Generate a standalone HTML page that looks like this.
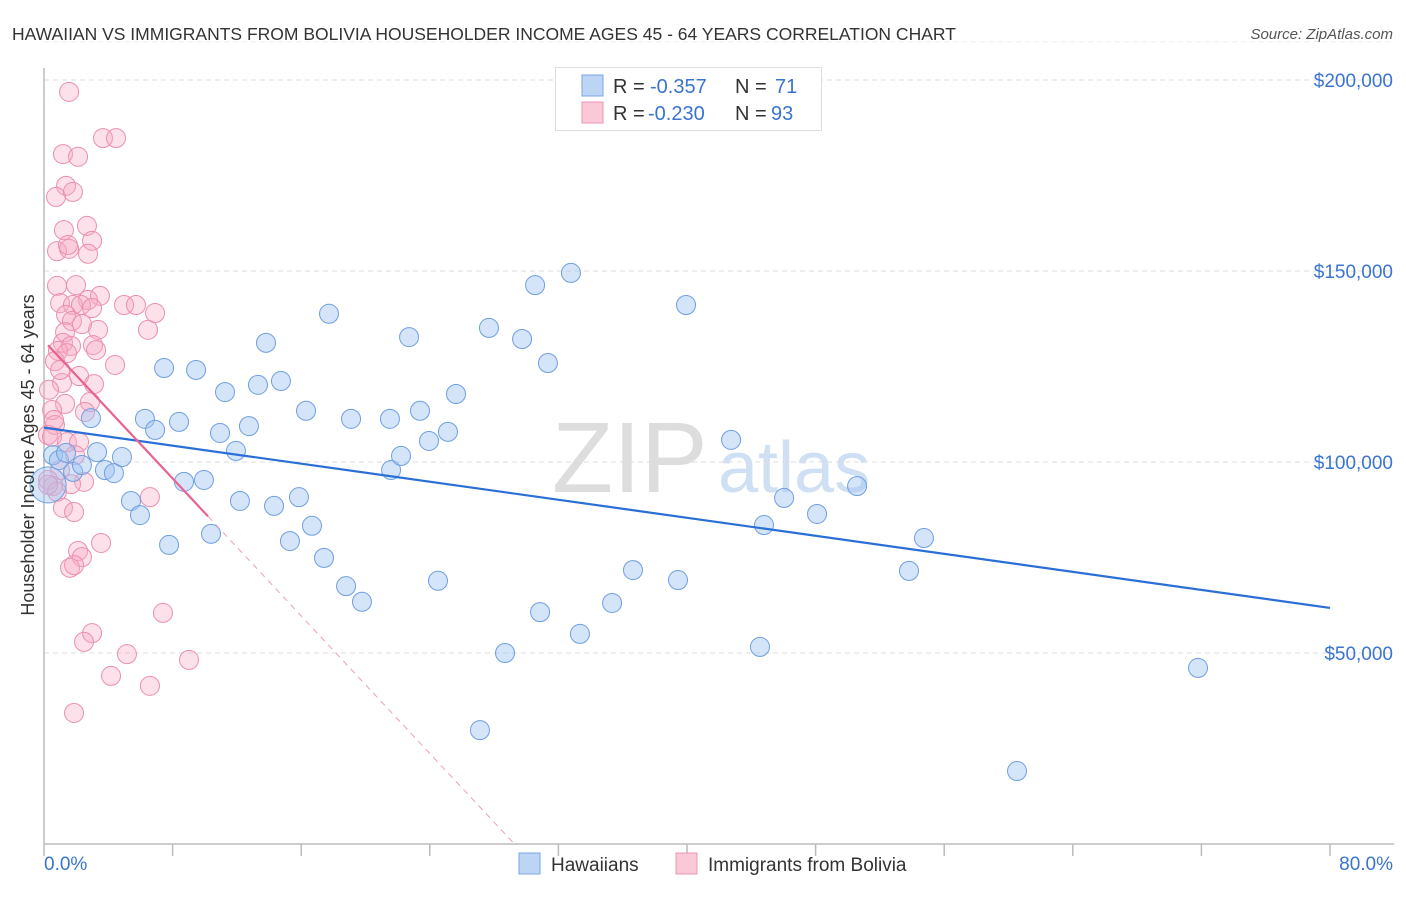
<!DOCTYPE html>
<html><head><meta charset="utf-8"><style>
body{margin:0;background:#fff;font-family:"Liberation Sans",sans-serif;}
svg text{font-family:"Liberation Sans",sans-serif;}
</style></head><body>
<svg id="c" width="1406" height="892" viewBox="0 0 1406 892">
<text x="12" y="40" font-size="17.5" fill="#333">HAWAIIAN VS IMMIGRANTS FROM BOLIVIA HOUSEHOLDER INCOME AGES 45 - 64 YEARS CORRELATION CHART</text>
<text x="1393" y="39" font-size="15" fill="#555" font-style="italic" text-anchor="end">Source: ZipAtlas.com</text>
<g>
<text x="552" y="492" font-size="100" fill="#ddd" font-family="Liberation Serif">ZIP</text>
<text x="718" y="492" font-size="72" fill="#cfe0f4">atlas</text>
</g>
<g id="grid"></g>
<g id="axes"></g>
<g id="marks"></g>
<text transform="translate(34,455) rotate(-90)" font-size="18" fill="#333" text-anchor="middle">Householder Income Ages 45 - 64 years</text>
<g>
<rect x="555.5" y="67.5" width="266" height="63" fill="#fff" stroke="#ddd"/>
<rect x="582" y="75" width="21" height="21" fill="#bcd5f5" stroke="#7aa6e4"/>
<rect x="582" y="102" width="21" height="21" fill="#fbc8d8" stroke="#ec94b2"/>
<g font-size="20">
<text x="613" y="93" fill="#333">R =</text><text x="650" y="93" fill="#3a74d0">-0.357</text>
<text x="735" y="93" fill="#333">N =</text><text x="775" y="93" fill="#3a74d0">71</text></g>
<g font-size="20">
<text x="613" y="120" fill="#333">R =</text><text x="648" y="120" fill="#3a74d0">-0.230</text>
<text x="735" y="120" fill="#333">N =</text><text x="771" y="120" fill="#3a74d0">93</text></g>
</g>
<g>
<rect x="519" y="853" width="21" height="21" fill="#bcd5f5" stroke="#7aa6e4"/>
<text x="551" y="871" font-size="19" fill="#333">Hawaiians</text>
<rect x="676" y="853" width="21" height="21" fill="#fbc8d8" stroke="#ec94b2"/>
<text x="708" y="871" font-size="19" fill="#333">Immigrants from Bolivia</text>
</g>
</svg>
<script>
const yTicks=[50000,100000,150000,200000];
const yTickLabels=["$50,000","$100,000","$150,000","$200,000"];
const xTickVals=[0,8,16,24,32,40,48,56,64,72,80];
const xEndLabels=["0.0%","80.0%"];
const blueX=[0.56,0.93,1.37,1.81,2.36,3.30,2.92,3.79,4.35,4.85,5.41,5.97,6.28,6.91,7.47,7.78,8.40,8.71,9.46,9.95,10.39,10.95,11.26,11.94,12.19,12.75,13.31,13.81,14.31,14.74,15.30,15.86,16.30,16.67,17.42,17.73,18.79,19.10,19.78,21.52,21.59,22.21,22.71,23.39,23.95,24.51,25.13,25.63,27.12,27.68,28.68,29.74,30.55,30.86,31.35,32.78,33.34,35.34,36.64,39.44,39.94,42.74,44.54,44.79,46.04,48.09,50.58,53.81,54.74,60.53,71.79,0.25];
const blueY=[101.8,100.5,102.4,97.4,99.2,102.6,111.5,97.9,97.1,101.3,89.8,86.1,111.3,108.4,124.6,78.3,110.5,94.8,124.1,95.3,81.2,107.6,118.3,102.9,89.8,109.4,120.2,131.2,88.5,121.2,79.3,90.8,113.4,83.3,74.9,138.8,67.5,111.3,63.4,111.3,97.9,101.6,132.7,113.4,105.5,68.9,107.9,117.8,29.8,135.1,50.0,132.2,146.3,60.7,125.9,149.5,55.0,63.1,71.7,69.1,141.1,105.8,51.6,83.5,90.6,86.4,93.7,71.5,80.1,19.1,46.1,94.0];
const blueSize=[1,1,1,1,1,1,1,1,1,1,1,1,1,1,1,1,1,1,1,1,1,1,1,1,1,1,1,1,1,1,1,1,1,1,1,1,1,1,1,1,1,1,1,1,1,1,1,1,1,1,1,1,1,1,1,1,1,1,1,1,1,1,1,1,1,1,1,1,1,1,1,2];
const pinkX=[1.56,3.67,4.48,1.18,2.12,1.37,0.75,1.80,1.24,2.67,2.99,0.81,1.56,2.74,1.49,0.81,1.99,3.48,1.00,2.74,1.80,2.30,2.99,4.98,5.72,1.37,6.91,1.74,3.36,1.31,6.47,1.18,1.68,3.05,0.87,1.43,0.68,4.42,2.18,1.12,3.11,0.31,1.31,2.86,0.50,2.55,0.68,0.25,0.50,1.43,2.18,1.93,1.00,0.25,0.56,2.49,1.68,6.59,1.18,1.87,3.55,2.12,2.36,1.62,1.87,7.40,2.99,2.49,5.16,4.17,6.59,9.02,1.87,0.81,0.62,1.00,2.36,3.24,0.25];
const pinkY=[196.9,184.8,184.8,180.6,179.9,172.3,169.4,170.7,160.7,161.8,157.9,155.2,155.8,154.5,156.8,146.1,146.3,143.5,141.6,142.4,141.1,141.1,140.3,141.1,141.1,138.5,139.0,136.9,134.6,134.0,134.6,131.2,130.4,130.6,129.1,128.5,126.4,125.4,122.5,120.7,120.4,118.9,115.2,115.7,113.6,113.1,109.7,107.1,106.6,105.2,105.2,101.8,97.9,95.3,93.7,94.8,94.2,90.8,88.0,86.9,78.8,76.7,75.1,72.3,73.0,60.5,55.2,52.9,49.7,44.0,41.4,48.2,34.3,92.2,111.0,124.1,136.1,129.3,94.0];
const blueTrend=[109.0,61.8];
const pinkTrend=[131.7,-4.5];
const pinkSolidEnd=10.2;

const NS="http://www.w3.org/2000/svg";
const X0=44,X1=1330,YB=844,PXK=191/50;
const xs=v=>X0+(v/80)*(X1-X0);
const ys=k=>YB-k*PXK;
function mk(tag,attrs,parent){const e=document.createElementNS(NS,tag);for(const k in attrs)e.setAttribute(k,attrs[k]);document.getElementById(parent).appendChild(e);return e;}
yTicks.forEach((t,i)=>{
 const g=mk('line',{x1:X0,x2:1394,y1:ys(t/1000),y2:ys(t/1000),stroke:'#ddd','stroke-dasharray':'5,4'},'grid');
 
 
 const l=mk('text',{x:1393,y:ys(t/1000)+7,'font-size':19,fill:'#3a74d0','text-anchor':'end'},'axes');
 l.textContent=yTickLabels[i];
 
 
});
const topLine=mk('line',{x1:X0,x2:1394,y1:ys(210),y2:ys(210),stroke:'#eee','stroke-dasharray':'5,4'},'grid');


const ya=mk('line',{x1:X0,x2:X0,y1:68,y2:YB,stroke:'#bbb','stroke-width':1.5},'axes');


const xa=mk('line',{x1:X0,x2:1394,y1:YB,y2:YB,stroke:'#bbb','stroke-width':1.5},'axes');


xTickVals.forEach(v=>{
 const t=mk('line',{x1:xs(v),x2:xs(v),y1:YB,y2:856,stroke:'#bbb','stroke-width':1.5},'axes');
 
 
});
const xl0=mk('text',{x:X0,y:870,'font-size':19,fill:'#3a74d0'},'axes');xl0.textContent=xEndLabels[0];


const xl1=mk('text',{x:1393,y:870,'font-size':19,fill:'#3a74d0','text-anchor':'end'},'axes');xl1.textContent=xEndLabels[1];


pinkX.forEach((v,i)=>{
 const c=mk('circle',{cx:xs(v),cy:ys(pinkY[i]),r:9.5,fill:'rgba(247,170,196,0.35)',stroke:'#eb8fb0','stroke-width':1},'marks');
 
 
});
blueX.forEach((v,i)=>{
 const c=mk('circle',{cx:xs(v),cy:ys(blueY[i]),r:9.5*(blueSize[i]===2?1.9:1),fill:'rgba(160,196,242,0.45)',stroke:'#6f9fe0','stroke-width':1},'marks');
 
 
});
const bl=mk('line',{x1:xs(0),y1:ys(blueTrend[0]),x2:xs(80),y2:ys(blueTrend[1]),stroke:'#2a6fd6','stroke-width':2.2},'marks');


const pz=-pinkTrend[0]/pinkTrend[1];
const pl=mk('line',{x1:xs(0.25),y1:ys(pinkTrend[0]+pinkTrend[1]*0.25),x2:xs(pinkSolidEnd),y2:ys(pinkTrend[0]+pinkTrend[1]*pinkSolidEnd),stroke:'#e8638f','stroke-width':2.2},'marks');


const pd=mk('line',{x1:xs(pinkSolidEnd),y1:ys(pinkTrend[0]+pinkTrend[1]*pinkSolidEnd),x2:xs(pz),y2:ys(0),stroke:'#eaa0b8','stroke-width':1,'stroke-dasharray':'6,5'},'marks');


</script>
</body></html>
